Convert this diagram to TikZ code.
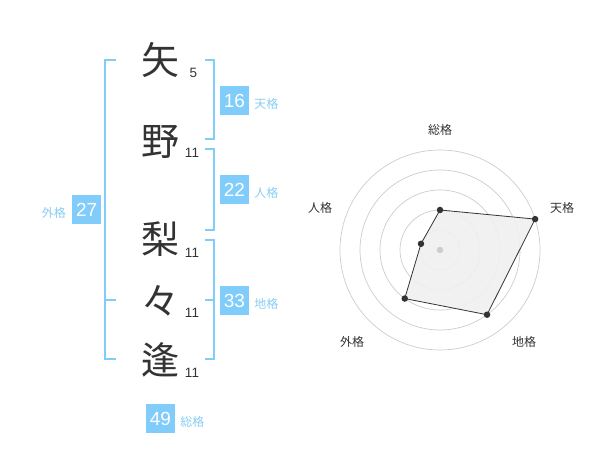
\documentclass[tikz,border=0pt]{standalone}
\usepackage{fontspec}
\setmainfont{Liberation Sans}
\newfontfamily\jp{Noto Sans CJK JP}
\definecolor{kakuao}{HTML}{80CCFA}
\definecolor{kakumei}{HTML}{88CDF3}
\definecolor{sumi}{HTML}{333333}
\definecolor{wasen}{HTML}{CCCCCC}
\definecolor{haiiro}{HTML}{F0F0F0}

\begin{document}
\begin{tikzpicture}[x=1pt,y=1pt,
		kanji/.style={text=sumi,font=\jp\fontsize{38}{38}\selectfont,inner sep=0pt},
		kakusu/.style={text=sumi,font=\fontsize{13.5}{13.5}\selectfont,inner sep=0pt},
		suubox/.style={fill=kakuao,text=white,font=\fontsize{19}{19}\selectfont,minimum size=29pt,inner sep=0pt},
		meibox/.style={text=kakumei,font=\jp\fontsize{12}{12}\selectfont,inner sep=0pt},
		kakko/.style={draw=kakuao,line width=1.8pt},
		ten/.style={circle,fill=sumi,inner sep=0pt,minimum size=6.5pt},
		radarmei/.style={text=sumi,font=\jp\fontsize{12}{12}\selectfont,inner sep=0pt}]
		\useasboundingbox (0,0) rectangle (600,470);
		
		% name
		\node[kanji] (ya) at (160.5,410) {矢};
		\node[kanji] (no) at (160.5,328) {野};
		\node[kanji] (ri) at (160.5,231) {梨};
		\node[kanji] (rr) at (160.5,169) {々};
		\node[kanji] (ho) at (160.5,110) {逢};
		\node[kakusu] (kya) at (193.5,397) {5};
		\node[kakusu] (kno) at (192,317) {11};
		\node[kakusu] (kri) at (192,217) {11};
		\node[kakusu] (krr) at (192,157.3) {11};
		\node[kakusu] (kho) at (192,97.3) {11};
		
		% brackets
		\draw[kakko] (116,410) -- (105,410) -- (105,110.7) -- (116,110.7);
		\draw[kakko] (105,170) -- (116,170);
		\draw[kakko] (205,410) -- (214.3,410) -- (214.3,330.7) -- (205,330.7);
		\draw[kakko] (205,320.7) -- (214.3,320.7) -- (214.3,240) -- (205,240);
		\draw[kakko] (205,230) -- (214.3,230) -- (214.3,110.7) -- (205,110.7);
		\draw[kakko] (205,170) -- (214.3,170);
		
		% scores
		\node[suubox] (ten) at (234.5,369.5) {16};
		\node[suubox] (jin) at (234.5,280) {22};
		\node[suubox] (chi) at (234.5,169.5) {33};
		\node[suubox] (gai) at (86.7,260) {27};
		\node[suubox] (sou) at (160.5,51) {49};
		\node[meibox,anchor=west] (mten) at ([xshift=5pt,yshift=-3pt]ten.east) {天格};
		\node[meibox,anchor=west] (mjin) at ([xshift=5pt,yshift=-3pt]jin.east) {人格};
		\node[meibox,anchor=west] (mchi) at ([xshift=5pt,yshift=-3pt]chi.east) {地格};
		\node[meibox,anchor=east] (mgai) at ([xshift=-6pt,yshift=-3pt]gai.west) {外格};
		\node[meibox,anchor=west] (msou) at ([xshift=5pt,yshift=-3pt]sou.east) {総格};
		
		% radar
		\coordinate (c) at (440,220);
		\foreach \r in {20,40,...,100}
			\draw[wasen,line width=0.7pt] (c) circle (\r);
		\path (c) ++(90:40) coordinate (psou);
		\path (c) ++(18:100) coordinate (pten);
		\path (c) ++(-54:80) coordinate (pchi);
		\path (c) ++(-126:60) coordinate (pgai);
		\path (c) ++(162:20) coordinate (pjin);
		\filldraw[fill=haiiro,fill opacity=0.9,draw=sumi,line width=0.8pt] (psou) -- (pten) -- (pchi) -- (pgai) -- (pjin) -- cycle;
		\node[circle,fill=wasen,inner sep=0pt,minimum size=6.5pt] (naka) at (c) {};
		\foreach \p in {psou,pten,pchi,pgai,pjin}
			\node[ten] (d\p) at (\p) {};
		\node[radarmei] (rsou) at (440,340) {総格};
		\node[radarmei] (rten) at (562,262) {天格};
		\node[radarmei] (rchi) at (524,128) {地格};
		\node[radarmei] (rgai) at (352,128) {外格};
		\node[radarmei] (rjin) at (320,262) {人格};
\end{tikzpicture}
\end{document}
